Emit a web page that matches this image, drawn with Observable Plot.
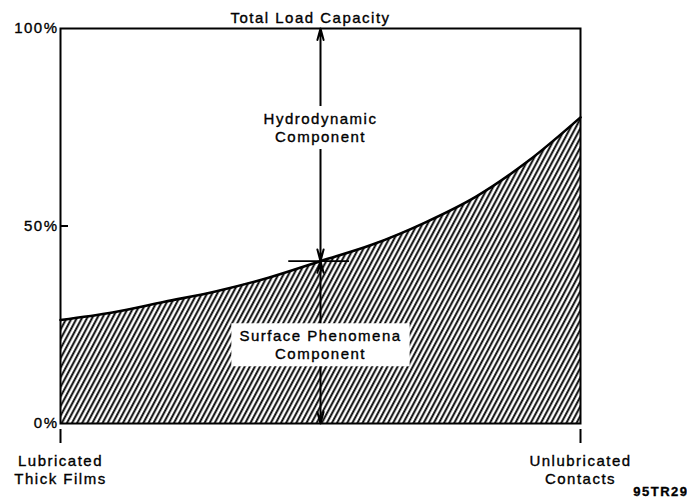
<!DOCTYPE html>
<html><head><meta charset="utf-8">
<script src="https://cdn.jsdelivr.net/npm/d3@7"></script>
<script src="https://cdn.jsdelivr.net/npm/@observablehq/plot@0.6"></script>
<style>
html,body{margin:0;padding:0;background:#fff;}
svg{display:block;}
svg text{letter-spacing:1.5px;stroke:black;stroke-width:0.35px;}
</style></head><body><div id="chart"></div>
<script>
// Regime position: 0 = lubricated thick films, 100 = unlubricated contacts
const regime = [0, 10, 20, 30, 40, 50, 60, 70, 80, 90, 100];
// Surface phenomena share of total load capacity (%)
const surfaceShare = [26.2, 28.1, 30.8, 33.5, 36.9, 41.1, 45.3, 50.8, 57.5, 66.5, 77.5];

const yTicks = [0, 50, 100];
const yInnerTicks = [50];
const xTicks = [0, 100];
const xTickLabels = ["Lubricated\nThick Films", "Unlubricated\nContacts"];
const titleText = ["Total Load Capacity"];
const hydroLabel = ["Hydrodynamic\nComponent"];
const surfaceLabel = ["Surface Phenomena\nComponent"];
const noteText = ["95TR29"];

const midX = 50;                       // where the component arrows are drawn
const hydroLabelY = 75;                // label centre (%)
const surfaceLabelY = 20;              // label centre (%)

const curve = regime.map((x, i) => ({x, y: surfaceShare[i]}));
const midY = surfaceShare[regime.indexOf(midX)];

const upperArrows = [
  {x1: midX, y1: hydroLabelY, x2: midX, y2: 100},
  {x1: midX, y1: hydroLabelY, x2: midX, y2: midY}
];
const lowerArrows = [
  {x1: midX, y1: surfaceLabelY, x2: midX, y2: midY},
  {x1: midX, y1: surfaceLabelY, x2: midX, y2: 0}
];
const cross = [{x1: midX - 6.2, x2: midX + 5.5, y: midY}];

const svg = Plot.plot({
  width: 687,
  height: 502,
  marginLeft: 60,
  marginRight: 107,
  marginTop: 28,
  marginBottom: 79,
  x: {domain: [0, 100]},
  y: {domain: [0, 100]},
  style: {fontFamily: "'Liberation Sans', Arial, sans-serif", fontSize: "15px", color: "black", background: "white", overflow: "visible"},
  marks: [
    Plot.areaY(curve, {x: "x", y: "y", fill: "url(#hatch)", curve: "monotone-x"}),
    Plot.lineY(curve, {x: "x", y: "y", stroke: "black", strokeWidth: 2.6, curve: "monotone-x"}),
    Plot.arrow(upperArrows, {x1: "x1", y1: "y1", x2: "x2", y2: "y2", stroke: "black", strokeWidth: 2, headLength: 9, headAngle: 30, bend: 0}),
    Plot.arrow(lowerArrows, {x1: "x1", y1: "y1", x2: "x2", y2: "y2", stroke: "black", strokeWidth: 2, headLength: 9, headAngle: 30, bend: 0}),
    Plot.link(cross, {x1: "x1", x2: "x2", y1: "y", y2: "y", stroke: "black", strokeWidth: 1.6}),
    Plot.text(hydroLabel, {x: midX, y: hydroLabelY, text: d => d, fill: "black", fontSize: 15, lineHeight: 1.2, ariaLabel: () => "boxed label"}),
    Plot.text(surfaceLabel, {x: midX, y: surfaceLabelY, text: d => d, fill: "black", fontSize: 15, lineHeight: 1.2, ariaLabel: () => "boxed label"}),
    Plot.text(titleText, {frameAnchor: "top", text: d => d, dy: -16, dx: -10, fill: "black", fontSize: 15}),
    Plot.text(noteText, {frameAnchor: "bottom-right", text: d => d, dx: 108, dy: 72, textAnchor: "end", fill: "black", fontSize: 13, fontWeight: "bold"}),
    Plot.frame({stroke: "black", strokeWidth: 2}),
    Plot.axisY({ticks: yTicks, tickFormat: d => d + "%", tickSize: 0, tickPadding: 2, fontSize: 15}),
    Plot.axisY({ticks: yInnerTicks, tickFormat: () => "", tickSize: -8, strokeWidth: 2}),
    Plot.axisX({ticks: xTicks, tickFormat: () => "", tickSize: 14, dy: 6, strokeWidth: 2}),
    Plot.axisX({ticks: xTicks, tickFormat: d => xTickLabels[xTicks.indexOf(d)], tickSize: 0, tickPadding: 30, fontSize: 15, lineHeight: 1.2})
  ]
});

document.getElementById("chart").append(svg);

// hatch pattern
const defs = d3.select(svg).insert("defs", ":first-child");
const pat = defs.append("pattern")
  .attr("id", "hatch").attr("patternUnits", "userSpaceOnUse")
  .attr("width", 4.5).attr("height", 10).attr("patternTransform", "rotate(28)");
pat.append("rect").attr("width", 4.5).attr("height", 10).attr("fill", "white");
pat.append("line").attr("x1", 1.2).attr("x2", 1.2).attr("y1", -1).attr("y2", 11)
  .attr("stroke", "black").attr("stroke-width", 1.9);

// white boxes behind the component labels
svg.querySelectorAll('text[aria-label="boxed label"]').forEach(function (el) {
  const b = el.getBBox();
  const r = document.createElementNS("http://www.w3.org/2000/svg", "rect");
  r.setAttribute("x", b.x - 8);
  r.setAttribute("y", b.y - 4);
  r.setAttribute("width", b.width + 16);
  r.setAttribute("height", b.height + 8);
  r.setAttribute("fill", "white");
  const t = el.getAttribute("transform");
  if (t) r.setAttribute("transform", t);
  el.parentNode.insertBefore(r, el);
});
</script>
</body></html>
